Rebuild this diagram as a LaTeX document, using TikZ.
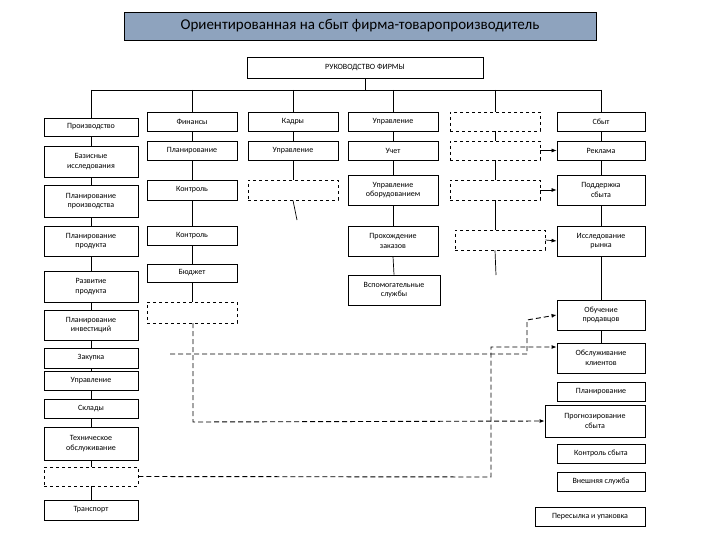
\documentclass[tikz,border=0pt]{standalone}
\usepackage{fontspec}
\setmainfont{Carlito}
\usetikzlibrary{arrows.meta}
\newcommand\Bx[7][box]{\node[#1,minimum width={(#5-#3)*1pt},minimum height={(#6-#4)*1pt}] (#2) at ({(#3+#5)/2},{(#4+#6)/2}) {#7};}
\begin{document}
\begin{tikzpicture}[x=1pt,y=-1pt,
 box/.style={draw,line width=0.8pt,inner sep=1pt,align=center,font=\fontsize{8}{9.5}\selectfont},
 dbox/.style={box,dashed},
 ln/.style={line width=0.7pt},
 dl/.style={line width=0.9pt,dashed,dash pattern=on 5pt off 3pt},
 arr/.style={-{Latex[length=5pt,width=4pt]}}]
\useasboundingbox (0,0) rectangle (720,540);
\node[draw,line width=0.8pt,fill={rgb,255:red,142;green,163;blue,190},minimum width=472pt,minimum height=28pt,font=\fontsize{15}{17}\selectfont] (t) at (360,26) {Ориентированная на сбыт фирма-товаропроизводитель};
\Bx{r}{247}{57}{483}{78}{РУКОВОДСТВО ФИРМЫ}
% column 1
\Bx{a1}{44}{118}{138}{136}{Производство}
\Bx{a2}{44}{146}{138}{177}{Базисные\\исследования}
\Bx{a3}{44}{185}{138}{217}{Планирование\\производства}
\Bx{a4}{44}{226}{138}{256}{Планирование\\продукта}
\Bx{a5}{44}{271}{138}{302}{Развитие\\продукта}
\Bx{a6}{44}{310}{138}{340}{Планирование\\инвестиций}
\Bx{a7}{44}{348}{138}{368}{Закупка}
\Bx{a8}{44}{371}{138}{390}{Управление}
\Bx{a9}{44}{399}{138}{418}{Склады}
\Bx{a10}{44}{427}{138}{460}{Техническое\\обслуживание}
\Bx[dbox]{a11}{44}{467}{138}{486}{}
\Bx{a12}{44}{500}{138}{520}{Транспорт}
% column 2
\Bx{b1}{147}{112}{237}{131}{Финансы}
\Bx{b2}{147}{141}{237}{160}{Планирование}
\Bx{b3}{147}{180}{237}{200}{Контроль}
\Bx{b4}{147}{226}{237}{245}{Контроль}
\Bx{b5}{147}{264}{237}{282}{Бюджет}
\Bx[dbox]{b6}{147}{302}{237}{323}{}
% column 3
\Bx{c1}{248}{112}{338}{131}{Кадры}
\Bx{c2}{248}{141}{338}{160}{Управление}
\Bx[dbox]{c3}{248}{180}{338}{200}{}
% column 4
\Bx{d1}{348}{112}{438}{131}{Управление}
\Bx{d2}{348}{141}{438}{160}{Учет}
\Bx{d3}{348}{175}{438}{205}{Управление\\оборудованием}
\Bx{d4}{348}{226}{438}{256}{Прохождение\\заказов}
\Bx{d5}{348}{275}{440}{305}{Вспомогательные\\службы}
% column 5
\Bx[dbox]{e1}{450}{112}{540}{131}{}
\Bx[dbox]{e2}{450}{141}{540}{160}{}
\Bx[dbox]{e3}{450}{180}{540}{200}{}
\Bx[dbox]{e4}{455}{230}{545}{250}{}
% column 6
\Bx{f1}{557}{112}{645}{131}{Сбыт}
\Bx{f2}{557}{141}{645}{160}{Реклама}
\Bx{f3}{557}{175}{645}{205}{Поддержка\\сбыта}
\Bx{f4}{557}{226}{645}{256}{Исследование\\рынка}
\Bx{f5}{557}{300}{645}{330}{Обучение\\продавцов}
\Bx{f6}{557}{343}{645}{373}{Обслуживание\\клиентов}
\Bx{f7}{557}{382}{645}{401}{Планирование}
\Bx{f8}{545}{405}{645}{437}{Прогнозирование\\сбыта}
\Bx{f9}{557}{444}{645}{463}{Контроль сбыта}
\Bx{f10}{557}{472}{645}{491}{Внешняя служба}
\Bx{f11}{535}{507}{645}{526}{Пересылка и упаковка}
% bus
\coordinate (bl) at (91,90); \coordinate (br) at (601,90);
\draw[ln] (r.south) -- (r.south|-bl);
\draw[ln] (bl) -- (br);
\foreach \n in {a1,b1,c1,d1,e1} \draw[ln] (\n.north|-bl) -- (\n.north);
\draw[ln] (br) -- (f1.north);
% chains
\foreach \p/\q in {a1/a2,a2/a3,a3/a4,a4/a5,a5/a6,a6/a7,a7/a8,a8/a9,a9/a10,a10/a11,a11/a12,
 b1/b2,b2/b3,b3/b4,b4/b5,b5/b6,c1/c2,c2/c3,d1/d2,d2/d3,d3/d4,d4/d5,e1/e2,e2/e3,
 f1/f2,f2/f3,f3/f4,f4/f5,f5/f6}
 \draw[ln] (\p.south) -- (\q.north);
\draw[ln] (e3.south-|e1.south) -- (e4.north-|e1.south);
\coordinate (c3e) at (297,220); \draw[ln] (c3.south) -- (c3e);
\coordinate (e4e) at (496,275); \draw[ln] (e4.south-|e1.south) -- (e4e);
% arrows
\draw[ln,arr] (e2.east) -- (f2.west);
\draw[ln,arr] (e3.east) -- (f3.west);
\draw[ln,arr] (e4.east) -- (f4.west);
\draw[dl,arr] (193,323) -- (193,422) -- (f8.west);
\coordinate (z0) at (170,354);
\draw[dl,arr] (z0) -- (527,354) -- (527,320) -- (f5.west);
\draw[dl,arr] (a11.east) -- (491,477) -- (491,347) -- (f6.west|-491,347);
\end{tikzpicture}
\end{document}
